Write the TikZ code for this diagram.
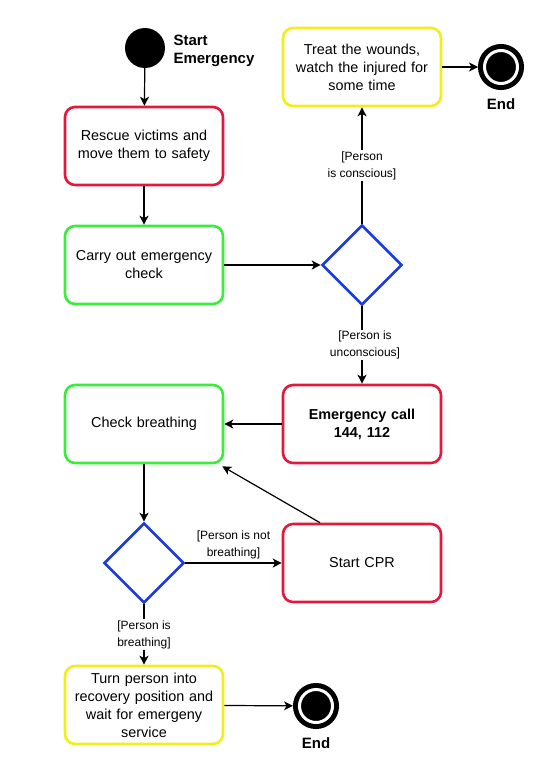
\documentclass[tikz,border=0pt]{standalone}
\usepackage{fontspec}
\setmainfont{Liberation Sans}
\usetikzlibrary{positioning,arrows.meta,shapes.geometric}
\definecolor{actred}{HTML}{E2183C}
\definecolor{actgreen}{HTML}{3CEC3C}
\definecolor{actyellow}{HTML}{F2EE1C}
\definecolor{decblue}{HTML}{1C3CE0}

\begin{document}
\begin{tikzpicture}[x=1pt, y=-1pt,
  font=\fontsize{14.4}{18}\selectfont,
  act/.style={draw=#1, line width=2.6pt, rounded corners=10pt, fill=white,
    minimum width=158pt, minimum height=78pt, align=center, text width=150pt, inner sep=0pt},
  dec/.style={diamond, draw=decblue, line width=2.6pt, minimum width=80pt, minimum height=80pt, inner sep=0pt},
  initial/.style={circle, fill=black, minimum size=40pt, inner sep=0pt},
  final/.style={circle, fill=black, draw=black, double=white, double distance=3pt, line width=5pt,
    minimum size=33pt, inner sep=0pt, outer sep=6.5pt},
  bold/.style={font=\fontsize{15}{18}\selectfont\bfseries},
  guard/.style={font=\fontsize{12}{17}\selectfont, align=center, fill=white, inner sep=1pt},
  arr/.style={-{Stealth[length=9pt, width=9pt, inset=2.5pt]}, draw=black, line width=1.2pt}]
\useasboundingbox (0,0) rectangle (543,763);
\node[initial] (start) at (145,48) {};
\node[bold, anchor=west, align=left] (starttxt) at (170,51) {Start\\Emergency};
\node[act=actred] (rescue) at (144,146) {Rescue victims and\\move them to safety};
\node[act=actgreen] (carry) at (144,265) {Carry out emergency\\check};
\node[dec] (dec1) at (362,265) {};
\node[act=actyellow] (treat) at (362,67) {Treat the wounds,\\watch the injured for\\some time};
\node[final] (endA) at (501,67) {};
\node[bold] (endAtxt) at (501,104) {End};
\node[act=actred, font=\fontsize{14.4}{18}\selectfont\bfseries] (call) at (362,424) {Emergency call\\144, 112};
\node[act=actgreen] (breath) at (144,424) {Check breathing};
\node[dec] (dec2) at (144,563) {};
\node[act=actred] (cpr) at (362,563) {Start CPR};
\node[act=actyellow] (recov) at (144,705) {Turn person into\\recovery position and\\wait for emergeny\\service};
\node[final] (endB) at (316,706) {};
\node[bold] (endBtxt) at (316,743) {End};
\foreach \u/\v in {start/rescue, rescue/carry, carry/dec1, treat/endA, call/breath, breath/dec2, recov/endB}
  \draw[arr] (\u) -- (\v);
\draw[arr] (dec1.north) -- node[guard] {[Person\\is conscious]} (treat.south);
\draw[arr] (dec1.south) -- node[guard, xshift=3pt] {[Person is\\unconscious]} (call.north);
\draw[arr] (dec2.east) -- node[guard, above=2pt, fill=none] {[Person is not\\breathing]} (cpr.west);
\draw[arr] (dec2.south) -- node[guard] {[Person is\\breathing]} (recov.north);
\draw[arr] ([xshift=-42pt]cpr.north) -- ([xshift=-2pt, yshift=-2pt]breath.south east);
\end{tikzpicture}
\end{document}
